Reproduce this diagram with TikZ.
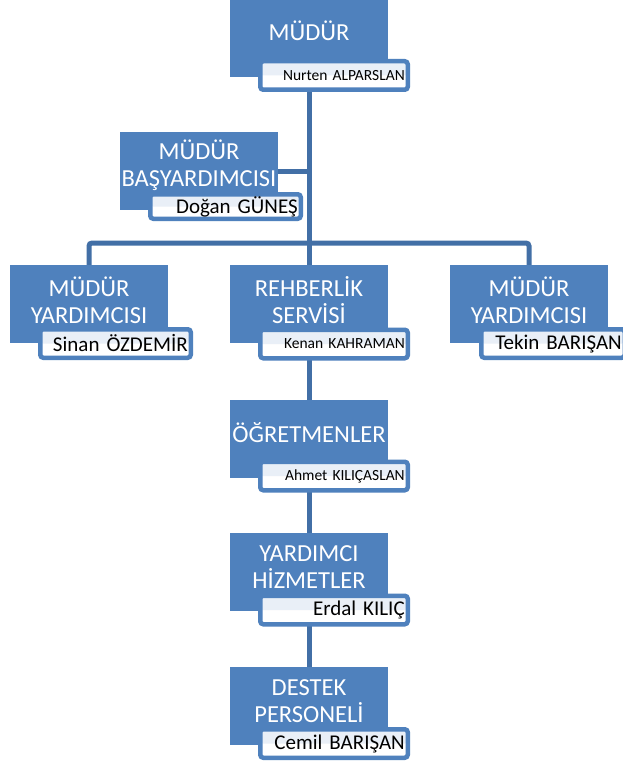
\documentclass[tikz,border=0pt]{standalone}
\usepackage{fontspec}
\setmainfont{Carlito}
\usetikzlibrary{backgrounds}
\definecolor{boxblue}{RGB}{79,129,189}
\definecolor{linkblue}{RGB}{66,111,166}
\definecolor{gloss}{RGB}{233,239,247}
\tikzset{
  titlebox/.style={fill=boxblue, draw=none, minimum width=158pt, minimum height=78pt, inner sep=0pt, outer sep=0pt},
  titletext/.style={text=white, font=\fontsize{24.5}{27}\selectfont, align=center, inner sep=0pt},
  namebox/.style={fill=white, draw=boxblue, line width=4.5pt, rounded corners=3pt,
    inner xsep=3pt, inner ysep=0pt, outer sep=0pt, align=right,
    text width=#1pt-10.5pt, minimum height=28.5pt,
    path picture={\fill[gloss] (path picture bounding box.north west) rectangle (path picture bounding box.east);}},
  namebox/.default=152,
  bigname/.style={font=\fontsize{21}{24}\selectfont},
  smallname/.style={font=\fontsize{15.5}{18}\selectfont},
  link/.style={draw=linkblue, line width=5pt},
}
\begin{document}
\begin{tikzpicture}[x=1pt, y=-1pt]
\useasboundingbox (0,0) rectangle (622,765);

% title boxes
\node[titlebox] (mudur)  at (309,38)  {};
\node[titlebox] (basy)   at (199,171) {};
\node[titlebox] (sinan)  at (89,304)  {};
\node[titlebox] (rehber) at (309,304) {};
\node[titlebox] (tekin)  at (529,304) {};
\node[titlebox] (ogret)  at (309,439) {};
\node[titlebox] (yard)   at (309,572) {};
\node[titlebox] (destek) at (309,706) {};

% titles
\node[titletext] (mudurT)  at (309,31)  {MÜDÜR};
\node[titletext] (basyT)   at (199,165) {MÜDÜR\\BAŞYARDIMCISI};
\node[titletext] (sinanT)  at (89,300)  {MÜDÜR\\YARDIMCISI};
\node[titletext] (rehberT) at (309,300) {REHBERLİK\\SERVİSİ};
\node[titletext] (tekinT)  at (529,300) {MÜDÜR\\YARDIMCISI};
\node[titletext] (ogretT)  at (309,433) {ÖĞRETMENLER};
\node[titletext] (yardT)   at (309,567) {YARDIMCI\\HİZMETLER};
\node[titletext] (destekT) at (309,701) {DESTEK\\PERSONELİ};

% name boxes
\node[namebox, smallname] (mudurN)  at (334,75.5)  {Nurten ALPARSLAN};
\node[namebox=155, bigname, minimum height=24.5pt] (basyN) at (225.5,206.5) {Doğan GÜNEŞ};
\node[namebox=155, bigname] (sinanN) at (115.5,343.5) {Sinan ÖZDEMİR};
\node[namebox, smallname] (kenanN)  at (334,344)   {Kenan KAHRAMAN};
\node[namebox=148, bigname] (tekinN) at (553,343.5) {Tekin BARIŞAN};
\node[namebox, smallname] (ogretN)  at (334,476)   {Ahmet KILIÇASLAN};
\node[namebox, bigname]   (yardN)   at (334,610)   {Erdal KILIÇ};
\node[namebox, bigname]   (destekN) at (334,743.5) {Cemil BARIŞAN};

% connectors
\begin{pgfonlayer}{background}
\fill[white] (0,0) rectangle (622,765);
\coordinate (hub) at (309,243);
\draw[link] (mudur.south) -- (rehber.north);
\draw[link, rounded corners=3pt] (sinan.north) |- (hub) -| (tekin.north);
\draw[link] (basy.east) -- (basy.east -| mudur.south);
\draw[link] (rehber.south) -- (ogret.north);
\draw[link] (ogret.south) -- (yard.north);
\draw[link] (yard.south) -- (destek.north);
\end{pgfonlayer}
\end{tikzpicture}
\end{document}
